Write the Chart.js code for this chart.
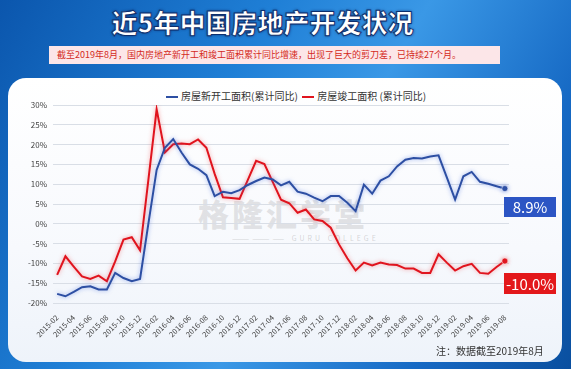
<!DOCTYPE html>
<html>
<head>
<meta charset="utf-8">
<script src="https://cdn.jsdelivr.net/npm/chart.js@4"></script>
<style>
  html, body { margin: 0; padding: 0; }
  body {
    width: 571px; height: 369px; overflow: hidden; position: relative;
    font-family: "Noto Sans CJK SC", "Noto Sans", sans-serif;
    background: linear-gradient(120deg, #0b56ad 0%, #1f7fd6 35%, #3a98e6 55%, #1669c4 80%, #0a4f9f 100%);
  }
  .title {
    position: absolute; left: 0; width: 525px; top: 3px; text-align: center;
    font-size: 26px; font-weight: 900; color: #fff; letter-spacing: 0px;
    -webkit-text-stroke: 1px #0d2f6e;
    text-shadow: 0 0 3px #0a2a66;
  }
  .sub {
    position: absolute; left: 49px; top: 46px; width: 451px; height: 18px;
    background: #fce6e8; color: #d42a22; font-size: 9px; line-height: 18px;
    padding-left: 8px; box-sizing: border-box; white-space: nowrap;
  }
  .card {
    position: absolute; left: 8px; top: 78px; width: 554px; height: 284px;
    border-radius: 18px;
    background: linear-gradient(180deg, #ffffff 0%, #f7f9fd 60%, #eef3fa 100%);
  }
  .legend {
    position: absolute; top: 89px; left: 166px; font-size: 10px; color: #333;
    white-space: nowrap; line-height: 14px;
  }
  .legend span.ln { display: inline-block; width: 12px; height: 2px; vertical-align: middle; margin-right: 3px; }
  .mark { position: absolute; left: 504px; width: 52px; color: #fff; font-size: 15px; text-align: center; }
  .foot { position: absolute; left: 436px; top: 343px; font-size: 10px; color: #333; }
  .wm { position: absolute; left: 198px; top: 197px; font-size: 31px; line-height: 31px; font-weight: 900; color: rgba(140,140,140,0.22); letter-spacing: 3px; }
  .wm2 { position: absolute; left: 232px; top: 234px; font-size: 7px; line-height: 8px; color: rgba(140,140,140,0.35); letter-spacing: 3px; }
  canvas { position: absolute; left: 0; top: 0; }
</style>
</head>
<body>
<div class="title">近5年中国房地产开发状况</div>
<div class="sub">截至2019年8月，国内房地产新开工和竣工面积累计同比增速，出现了巨大的剪刀差，已持续27个月。</div>
<div class="card"></div>
<div class="wm">格隆汇学堂</div>
<div class="wm2">———————— GURU COLLEGE</div>
<div class="legend"><span class="ln" style="background:#2d4fa3"></span>房屋新开工面积(累计同比)&nbsp;&nbsp;<span class="ln" style="background:#e0141e"></span>房屋竣工面积 (累计同比)</div>
<div style="position:absolute;left:0;top:0;width:571px;height:369px;">
  <canvas id="chart" width="571" height="369"></canvas>
</div>
<div class="mark" style="top:197px;height:20px;line-height:20px;background:#2c55c4;">8.9%</div>
<div class="mark" style="top:273px;height:21px;line-height:21px;background:#e3181b;">-10.0%</div>
<div class="foot">注：数据截至2019年8月</div>

<script>
// Months
const months = [
  '2015-02','2015-03','2015-04','2015-05','2015-06','2015-07','2015-08','2015-09','2015-10','2015-11','2015-12',
  '2016-01','2016-02','2016-03','2016-04','2016-05','2016-06','2016-07','2016-08','2016-09','2016-10','2016-11','2016-12',
  '2017-01','2017-02','2017-03','2017-04','2017-05','2017-06','2017-07','2017-08','2017-09','2017-10','2017-11','2017-12',
  '2018-01','2018-02','2018-03','2018-04','2018-05','2018-06','2018-07','2018-08','2018-09','2018-10','2018-11','2018-12',
  '2019-01','2019-02','2019-03','2019-04','2019-05','2019-06','2019-07','2019-08'
];

// 房屋新开工面积 (累计同比, %)
const newStarts = [
  -17.7, -18.3, -17.2, -16.0, -15.8, -16.6, -16.6, -12.4, -13.7, -14.5, -13.9,
  0.0, 13.6, 19.2, 21.4, 18.0, 15.0, 13.9, 12.3, 7.0, 8.1, 7.7, 8.5,
  9.8, 10.8, 11.7, 11.2, 9.7, 10.6, 8.1, 7.6, 6.6, 5.7, 7.0, 7.0,
  5.3, 3.2, 9.9, 7.6, 10.9, 12.0, 14.5, 16.2, 16.6, 16.5, 17.0, 17.3,
  11.7, 6.1, 12.0, 13.1, 10.6, 10.1, 9.5, 8.9
];

// 房屋竣工面积 (累计同比, %)
const completed = [
  -12.9, -8.2, -10.8, -13.3, -13.9, -13.1, -14.5, -9.5, -4.0, -3.4, -6.7,
  11.0, 28.9, 18.0, 20.1, 20.3, 20.1, 21.3, 19.2, 12.6, 6.7, 6.5, 6.3,
  11.1, 15.9, 15.1, 10.6, 6.1, 5.2, 2.8, 3.6, 1.1, 0.7, -1.0, -5.2,
  -8.7, -11.8, -9.8, -10.5, -9.8, -10.3, -10.4, -11.3, -11.3, -12.4, -12.4, -7.7,
  -9.8, -11.8, -10.7, -10.1, -12.4, -12.6, -10.9, -9.4
];

// y ticks
const yMin = -20, yMax = 30, yStep = 5;

const last = months.length - 1;

// soft glow under each line
const glowPlugin = {
  id: 'glow',
  beforeDatasetDraw(chart, args) {
    const c = chart.ctx;
    c.save();
    c.shadowColor = args.index === 0 ? 'rgba(70,110,220,0.55)' : 'rgba(240,70,70,0.5)';
    c.shadowBlur = 4;
  },
  afterDatasetDraw(chart) {
    chart.ctx.restore();
  }
};

new Chart(document.getElementById('chart'), {
  type: 'line',
  data: {
    labels: months,
    datasets: [
      {
        label: '房屋新开工面积(累计同比)',
        data: newStarts,
        borderColor: '#2d4fa3',
        backgroundColor: '#2d4fa3',
        borderWidth: 2,
        tension: 0,
        pointRadius: ctx => ctx.dataIndex === last ? 3 : 0,
        pointBorderColor: '#fff',
        pointBorderWidth: 0.5
      },
      {
        label: '房屋竣工面积(累计同比)',
        data: completed,
        borderColor: '#e0141e',
        backgroundColor: '#e0141e',
        borderWidth: 2,
        tension: 0,
        pointRadius: ctx => ctx.dataIndex === last ? 3 : 0,
        pointBorderColor: '#fff',
        pointBorderWidth: 0.5
      }
    ]
  },
  options: {
    responsive: false,
    animation: false,
    layout: { padding: { top: 105, right: 62, left: 0, bottom: 0 } },
    plugins: { legend: { display: false }, tooltip: { enabled: false } },
    scales: {
      x: {
        offset: true,
        grid: { display: false },
        border: { display: false },
        afterFit: s => { s.height = 66; },
        ticks: {
          autoSkip: false,
          minRotation: 45,
          maxRotation: 45,
          padding: 2,
          color: '#444',
          font: { size: 7.5, family: 'Noto Sans CJK SC' },
          callback: function(v, i) { return i % 2 === 0 ? this.getLabelForValue(v) : ''; }
        }
      },
      y: {
        min: yMin,
        max: yMax,
        afterFit: s => { s.width = 53; },
        border: { display: false },
        grid: { color: '#d9dee6', lineWidth: 1, drawTicks: false },
        ticks: {
          stepSize: yStep,
          padding: 6,
          color: '#444',
          font: { size: 8, family: 'Noto Sans CJK SC' },
          callback: v => v + '%'
        }
      }
    }
  },
  plugins: [glowPlugin]
});
</script>
</body>
</html>
